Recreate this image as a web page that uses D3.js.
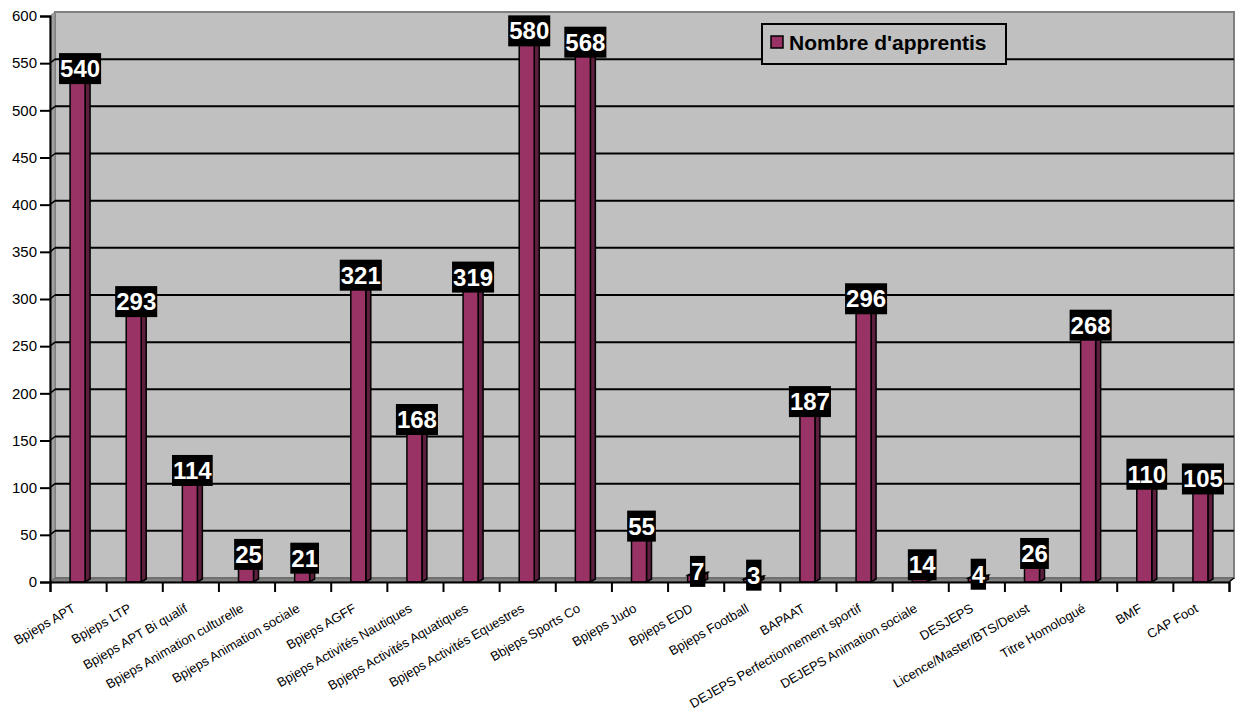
<!DOCTYPE html>
<html><head><meta charset="utf-8">
<script src="https://cdn.jsdelivr.net/npm/d3@7/dist/d3.min.js"></script>
<style>body{margin:0;background:#fff;}svg{display:block;}</style>
</head><body>
<script>
const categories = ["Bpjeps APT","Bpjeps LTP","Bpjeps APT Bi qualif","Bpjeps Animation culturelle","Bpjeps Animation sociale","Bpjeps AGFF","Bpjeps Activités Nautiques","Bpjeps Activités Aquatiques","Bpjeps Activités Equestres","Bbjeps Sports Co","Bpjeps Judo","Bpjeps EDD","Bpjeps Football","BAPAAT","DEJEPS Perfectionnement sportif","DEJEPS Animation sociale","DESJEPS","Licence/Master/BTS/Deust","Titre Homologué","BMF","CAP Foot"];
const values = [540,293,114,25,21,321,168,319,580,568,55,7,3,187,296,14,4,26,268,110,105];
const yTicks = [0,50,100,150,200,250,300,350,400,450,500,550,600];
const seriesName = "Nombre d'apprentis";

const W = 1237, H = 715;
const L = 50, R = 1229, B = 582, T = 16;
const DX = 5, DY = -4;   // wall depth
const BX = 5, BY = -3;   // bar depth

const svg = d3.select("body").append("svg").attr("width", W).attr("height", H);

const x = d3.scaleBand().domain(categories).range([L, R]).padding(0);
const y = d3.scaleLinear().domain([0, 600]).range([B, T]);

// back wall
svg.append("rect").attr("x", L + DX).attr("y", y(600) + DY).attr("width", R - L).attr("height", y(0) - y(600))
  .attr("fill", "#c0c0c0").attr("stroke", "#808080").attr("stroke-width", 2);
// left wall
svg.append("polygon").attr("points", [[L, B],[L, T],[L+DX, T+DY],[L+DX, B+DY]].join(" "))
  .attr("fill", "#a0a0a0").attr("stroke", "#808080").attr("stroke-width", 1);
// floor
svg.append("polygon").attr("points", [[L, B],[L+DX, B+DY],[R+DX, B+DY],[R, B]].join(" "))
  .attr("fill", "#808080").attr("stroke", "#606060").attr("stroke-width", 1);

// gridlines on back wall
const grid = svg.append("g");
yTicks.filter(v => v > 0 && v < 600).forEach(v => {
  grid.append("line").attr("x1", L + DX).attr("x2", R + DX).attr("y1", y(v) + DY).attr("y2", y(v) + DY)
    .attr("stroke", "#000").attr("stroke-width", 2);
  grid.append("line").attr("x1", L).attr("x2", L + DX).attr("y1", y(v)).attr("y2", y(v) + DY)
    .attr("stroke", "#000").attr("stroke-width", 1.5);
});

// y axis
const yAxis = svg.append("g").attr("transform", `translate(${L},0)`)
  .call(d3.axisLeft(y).tickValues(yTicks).tickSize(10).tickPadding(3));
yAxis.select(".domain").attr("stroke", "#000").attr("stroke-width", 2);
yAxis.selectAll(".tick line").attr("stroke", "#000").attr("stroke-width", 2);
yAxis.selectAll("text").attr("font-family", "Liberation Sans, Arial, sans-serif").attr("font-size", 15).attr("fill", "#000");

// bars
const bw = 15;
const bars = svg.append("g");
categories.forEach((c, i) => {
  const v = values[i];
  const xc = x(c) + x.bandwidth() / 2;
  const x0 = xc - 8, x1 = x0 + bw;
  const yt = y(v), yb = y(0);
  bars.append("polygon").attr("points", [[x1, yt],[x1+BX, yt+BY],[x1+BX, yb+BY],[x1, yb]].join(" "))
    .attr("fill", "#5e1f3f").attr("stroke", "#000").attr("stroke-width", 1.5);
  bars.append("polygon").attr("points", [[x0, yt],[x0+BX, yt+BY],[x1+BX, yt+BY],[x1, yt]].join(" "))
    .attr("fill", "#7a2a52").attr("stroke", "#000").attr("stroke-width", 1.5);
  bars.append("rect").attr("x", x0).attr("y", yt).attr("width", bw).attr("height", yb - yt)
    .attr("fill", "#993366").attr("stroke", "#000").attr("stroke-width", 1.5);
});

// x axis
svg.append("line").attr("x1", R).attr("x2", R + DX).attr("y1", B).attr("y2", B + DY).attr("stroke", "#000").attr("stroke-width", 1.5);
const xb = d3.scaleLinear().domain([0, categories.length]).range([L, R]);
const xAxisTicks = svg.append("g").attr("transform", `translate(0,${B})`)
  .call(d3.axisBottom(xb).tickValues(d3.range(categories.length + 1)).tickSize(10).tickFormat(""));
xAxisTicks.select(".domain").attr("stroke", "#000").attr("stroke-width", 2);
xAxisTicks.selectAll(".tick line").attr("stroke", "#000").attr("stroke-width", 2);

const xAxis = svg.append("g").attr("transform", `translate(0,${B})`)
  .call(d3.axisBottom(x).tickSize(0).tickPadding(0));
xAxis.select(".domain").remove();
xAxis.selectAll("text")
  .attr("font-family", "Liberation Sans, Arial, sans-serif").attr("font-size", 13).attr("fill", "#000")
  .attr("text-anchor", "end").attr("dy", null).attr("y", 0)
  .attr("transform", "translate(-2,29) rotate(-30)");

// data labels
const labels = svg.append("g");
categories.forEach((c, i) => {
  const v = values[i];
  const cx = x(c) + x.bandwidth() / 2 + 2;
  const cy = y(v) - 4;
  const g = labels.append("g");
  const r = g.append("rect").attr("fill", "#000");
  const t = g.append("text").text(v).attr("x", cx).attr("y", cy + 8.5)
    .attr("text-anchor", "middle").attr("font-family", "Liberation Sans, Arial, sans-serif")
    .attr("font-weight", "bold").attr("font-size", 24).attr("fill", "#fff");
  const w = t.node().getComputedTextLength() + 2;
  r.attr("x", cx - w / 2).attr("y", cy - 15.5).attr("width", w).attr("height", 31);
});

// legend
const lg = svg.append("g");
lg.append("rect").attr("x", 762).attr("y", 24).attr("width", 244).attr("height", 40)
  .attr("fill", "#c0c0c0").attr("stroke", "#000").attr("stroke-width", 2);
lg.append("rect").attr("x", 771).attr("y", 36).attr("width", 12).attr("height", 12)
  .attr("fill", "#993366").attr("stroke", "#000").attr("stroke-width", 1.5);
lg.append("text").attr("x", 789).attr("y", 50).text(seriesName)
  .attr("font-family", "Liberation Sans, Arial, sans-serif").attr("font-weight", "bold").attr("font-size", 21).attr("fill", "#000");
</script>
</body></html>
